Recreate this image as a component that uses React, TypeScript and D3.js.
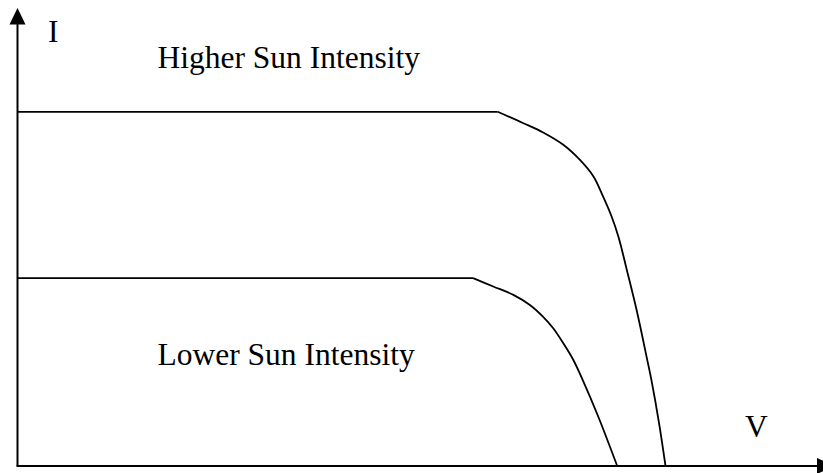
import React from "react";
import * as d3 from "d3";

// Voltage (arbitrary units) and current (arbitrary units)
const higherV = [0, 11.93, 12.57, 13.06, 13.56, 13.98, 14.31, 14.55, 14.76, 14.93, 15.14, 15.38, 15.63, 15.75, 15.94, 16.1];
const higherI = [8.05, 8.05, 7.79, 7.58, 7.3, 6.95, 6.58, 6.12, 5.67, 5.21, 4.45, 3.55, 2.48, 1.95, 0.97, 0];
const lowerV = [0, 11.32, 11.82, 12.32, 12.73, 13.06, 13.31, 13.56, 13.81, 14.03, 14.43, 14.9];
const lowerI = [4.27, 4.27, 4.08, 3.89, 3.66, 3.39, 3.13, 2.79, 2.41, 1.98, 1.12, 0];

const seriesLabels = ["Higher Sun Intensity", "Lower Sun Intensity"];
const axisLabels = ["I", "V"];

const W = 823;
const H = 473;
const x0 = 17.5;
const y0 = 466;

export default function App() {
  const x = d3.scaleLinear().domain([0, 20]).range([x0, x0 + 805]);
  const y = d3.scaleLinear().domain([0, 10]).range([y0, y0 - 440]);

  const flat = d3
    .line<[number, number]>()
    .x((d) => x(d[0]))
    .y((d) => y(d[1]));
  const bend = d3
    .line<[number, number]>()
    .x((d) => x(d[0]))
    .y((d) => y(d[1]))
    .curve(d3.curveCatmullRom.alpha(0.5));

  const higher = higherV.map((v, i) => [v, higherI[i]] as [number, number]);
  const lower = lowerV.map((v, i) => [v, lowerI[i]] as [number, number]);

  const font = "'Liberation Serif', 'Times New Roman', serif";
  const fs = 31.5;

  return (
    <svg
      width={W}
      height={H}
      style={{ position: "absolute", left: 0, top: 0, background: "#fff" }}
    >
      <rect width={W} height={H} fill="#fff" />
      {/* axes */}
      <line x1={x0} y1={y0} x2={x0} y2={22} stroke="#000" strokeWidth={2} />
      <path d={`M${x0},8 L${x0 - 8},24.5 L${x0 + 8},24.5 Z`} fill="#000" />
      <line x1={x0 - 1} y1={y0} x2={820} y2={y0} stroke="#000" strokeWidth={2.2} />
      <path d={`M834,${y0} L817,${y0 - 8} L817,${y0 + 8} Z`} fill="#000" />

      {/* curves */}
      {[higher, lower].map((s, k) => (
        <g key={k} fill="none" stroke="#000" strokeWidth={1.8}>
          <path d={flat(s.slice(0, 2)) || ""} />
          <path d={bend(s.slice(1)) || ""} />
        </g>
      ))}

      {/* texts */}
      <g fontFamily={font} fontSize={fs} fill="#000">
        <text x={48} y={42}>{axisLabels[0]}</text>
        <text x={745} y={437}>{axisLabels[1]}</text>
        <text x={157.5} y={68}>{seriesLabels[0]}</text>
        <text x={157.5} y={365}>{seriesLabels[1]}</text>
      </g>
    </svg>
  );
}
